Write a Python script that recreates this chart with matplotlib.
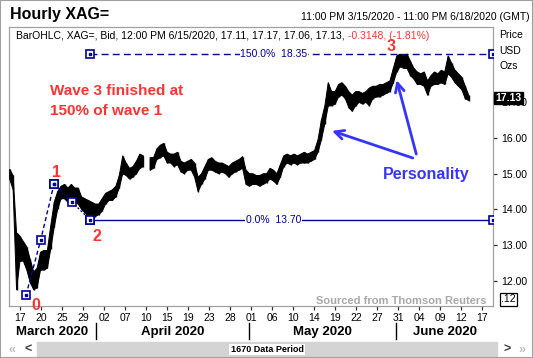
import numpy as np
from matplotlib import pyplot as plt
from matplotlib.patches import Rectangle

plt.rcParams['font.family'] = ['Liberation Sans', 'DejaVu Sans']

# hourly XAG= bid, low / high of each half session
lows = [14.85, 14.55, 11.75, 12.55, 12.55, 12.30, 11.95, 11.75, 11.80, 12.30,
        12.30, 12.35, 12.90, 13.50, 14.00, 14.30, 14.30, 14.20, 14.30, 14.20,
        14.15, 14.00, 13.90, 13.80, 13.85, 13.80, 13.85, 13.95, 14.15, 14.25,
        14.25, 14.35, 14.60, 15.00, 14.95, 14.85, 14.90, 15.00, 15.15, 15.20,
        np.nan,
        15.10, 15.15, 15.40, 15.45, 15.50, 15.30, 15.30, 15.20, 15.25,
        15.05, 15.00, 15.10, 15.10, 14.90, 14.50, 14.70, 14.85, 15.10, 15.10,
        15.05, 15.00, 15.05, 15.00, 14.90, 15.00, 15.05, 15.10, 15.15, 14.70,
        14.65, 14.70, 14.70, 14.65, 14.70, 14.75, 14.85, 14.80, 14.70, 14.90,
        15.20, 15.30, 15.25, 15.30, 15.25, 15.30, 15.30, 15.30, 15.35, 15.40,
        15.60, 15.95, 16.40, 16.90, 16.90, 16.95, 17.15, 17.20, 17.10, 16.85,
        16.75, 16.90, 17.00, 16.95, 17.00, 16.90, 17.10, 17.15, 17.15, 17.20,
        17.25, 17.30, 17.55, 17.85, 18.00, 17.95, 17.95, 17.75, 17.65, 17.50,
        17.50, 17.45, 17.20, 17.45, 17.50, 17.50, 17.55, 17.50, 17.80, 17.70,
        17.55, 17.45, 17.35, 17.10, 17.05]
highs = [15.12, 14.95, 13.35, 13.25, 13.10, 12.95, 12.60, 12.25, 12.35, 12.80,
         12.85, 12.85, 13.55, 14.20, 14.50, 14.65, 14.70, 14.60, 14.70, 14.60,
         14.60, 14.35, 14.30, 14.25, 14.20, 14.15, 14.15, 14.30, 14.45, 14.50,
         14.55, 14.65, 14.95, 15.50, 15.30, 15.15, 15.20, 15.35, 15.55, 15.50,
         np.nan,
         15.45, 15.45, 15.70, 15.80, 15.85, 15.60, 15.55, 15.55, 15.60,
         15.35, 15.30, 15.35, 15.40, 15.30, 14.90, 15.00, 15.20, 15.40, 15.45,
         15.35, 15.30, 15.30, 15.25, 15.20, 15.30, 15.35, 15.40, 15.48, 15.10,
         15.00, 15.00, 14.95, 14.95, 15.00, 15.00, 15.15, 15.10, 15.00, 15.25,
         15.50, 15.55, 15.50, 15.55, 15.50, 15.55, 15.60, 15.55, 15.60, 15.65,
         15.95, 16.50, 16.90, 17.55, 17.30, 17.30, 17.50, 17.55, 17.45, 17.30,
         17.20, 17.30, 17.30, 17.25, 17.30, 17.40, 17.45, 17.45, 17.50, 17.50,
         17.55, 17.60, 17.95, 18.30, 18.35, 18.30, 18.35, 18.15, 17.95, 17.85,
         17.80, 17.85, 17.60, 17.75, 17.85, 17.80, 17.90, 17.85, 18.30, 18.10,
         17.90, 17.80, 17.70, 17.45, 17.20]

tick_dates = ['2020-03-17', '2020-03-20', '2020-03-25', '2020-03-29', '2020-04-02',
              '2020-04-07', '2020-04-10', '2020-04-15', '2020-04-19', '2020-04-23',
              '2020-04-28', '2020-05-01', '2020-05-06', '2020-05-10', '2020-05-14',
              '2020-05-19', '2020-05-22', '2020-05-27', '2020-05-31', '2020-06-04',
              '2020-06-09', '2020-06-12', '2020-06-17']
tick_labels = [d[-2:] for d in tick_dates]
months = ['March 2020', 'April 2020', 'May 2020', 'June 2020']
month_starts = ['2020-04-01', '2020-05-01', '2020-06-01']
price_ticks = [12, 13, 14, 15, 16, 17]

# elliott wave marks: trading days from 17 Mar, price
impulse_days = [0.8, 2.9, 4.8]
impulse_prices = [11.60, 13.14, 14.71]
correction_days = [4.8, 7.4, 10.0]
correction_prices = [14.71, 14.20, 13.70]
fib_levels = [13.70, 18.35]
fib_labels = ['0.0%  13.70', '150.0%  18.35']

W, H = 533, 358
navy = '#00009c'
red = '#ff3333'
blue = '#3535ff'


def day(d):
    return np.busday_count('2020-03-17', d)


def fx(px):
    return px / W


def fy(py):
    return 1 - py / H


fig = plt.figure(figsize=(W / 100, H / 100), dpi=100)
ax = fig.add_axes([fx(9), fy(306), fx(493) - fx(9), fy(27) - fy(306)])
x_min, x_max = -1.63, 67.57
ax.set_xlim(x_min, x_max)
ax.set_ylim(11.294, 19.11)

# price band
sessions = np.linspace(-1.53, 64.1, len(lows))
ax.fill_between(sessions, lows, highs, color='black', lw=0.7, zorder=3)
ax.vlines(sessions, lows, highs, color='black', lw=1.0, zorder=3)

# fibonacci lines
for level, lab, ls in zip(fib_levels, fib_labels, ['-', (0, (5, 3))]):
    ax.plot([correction_days[-1], x_max], [level, level], color=navy, lw=1, ls=ls, zorder=2)
    ax.plot([correction_days[-1], x_max], [level, level], ls='none', marker='s', ms=6,
            mfc='white', mec=navy, mew=1.2, zorder=4)
    ax.plot([correction_days[-1], x_max], [level, level], ls='none', marker='s', ms=2,
            color=navy, zorder=5)
    ax.text(36.2, level, lab, color=navy, fontsize=7.5, ha='center', va='center',
            bbox=dict(facecolor='white', edgecolor='none', pad=0.3), zorder=4)

# wave lines
ax.plot(impulse_days, impulse_prices, color=navy, lw=1, ls=(0, (3, 2)), zorder=4)
ax.plot(correction_days, correction_prices, color=navy, lw=1, ls=(0, (1.5, 1.5)), zorder=4)
for xs, ys in [(impulse_days, impulse_prices), (correction_days, correction_prices)]:
    ax.plot(xs, ys, ls='none', marker='s', ms=6, mfc='white', mec=navy, mew=1.2, zorder=5)
    ax.plot(xs, ys, ls='none', marker='s', ms=2, color=navy, zorder=6)

for lab, u, p in [('0', 2.23, 11.31), ('1', 5.2, 15.02), ('2', 11.0, 13.23), ('3', 53.0, 18.55)]:
    ax.text(u, p, lab, color=red, fontsize=11.5, fontweight='bold', ha='center', va='center',
            clip_on=False, zorder=6)

# personality arrows
for tail, head in [((56.1, 15.44), (44.55, 16.20)), ((56.6, 15.55), (53.8, 17.62))]:
    ax.annotate('', xy=head, xytext=tail,
                arrowprops=dict(arrowstyle='->', color=blue, lw=2, mutation_scale=16,
                                shrinkA=0, shrinkB=0), zorder=6)
ax.text(58.05, 14.99, 'Personality', color=blue, fontsize=11.5, fontweight='bold',
        ha='center', va='center')

# axes styling
for s in ax.spines.values():
    s.set_color('#a0a0a0')
    s.set_linewidth(0.9)
ax.yaxis.tick_right()
ax.set_yticks(price_ticks)
ax.set_yticklabels([f'{p:.2f}' for p in price_ticks])
ax.set_xticks([day(d) for d in tick_dates])
ax.set_xticklabels(tick_labels)
ax.tick_params(axis='both', labelsize=7.5, length=3, width=0.9, color='#303030', pad=2)
ax.tick_params(axis='y', pad=3)

# month labels and separators
sep = [day(d) - 0.25 for d in month_starts]
bounds = [x_min] + sep + [x_max]
for i, m in enumerate(months):
    ax.text((bounds[i] + bounds[i + 1]) / 2, -0.093, m, transform=ax.get_xaxis_transform(),
            fontsize=9.5, fontweight='bold', ha='center', va='center')
for s in sep:
    ax.plot([s, s], [-0.06, -0.12], transform=ax.get_xaxis_transform(), color='black',
            lw=1, clip_on=False)

# header texts
fig.text(fx(10), fy(14), 'Hourly XAG=', fontsize=11.5, fontweight='bold', va='center')
fig.text(fx(530), fy(16.5), '11:00 PM 3/15/2020 - 11:00 PM 6/18/2020 (GMT)', fontsize=7.5,
         ha='right', va='center')
hdr = fig.text(fx(16), fy(35.8), 'BarOHLC, XAG=, Bid, 12:00 PM 6/15/2020, 17.11, 17.17, 17.06, 17.13, ',
               fontsize=7.5, va='center')
fig.add_artist(plt.Annotation('-0.3148, (-1.81%)', xy=(1, 0.5), xycoords=hdr, va='center',
                              fontsize=7.5, color=red))
for py, lab in [(34.7, 'Price'), (50.7, 'USD'), (66, 'Ozs')]:
    fig.text(fx(499), fy(py), lab, fontsize=7.5, va='center')

fig.text(fx(50), fy(91), 'Wave 3 finished at', color=red, fontsize=11, fontweight='bold',
         va='center')
fig.text(fx(50), fy(111), '150% of wave 1', color=red, fontsize=11, fontweight='bold',
         va='center')
fig.text(fx(486), fy(300.5), 'Sourced from Thomson Reuters', color='#a8a8a8', fontsize=8,
         fontweight='bold', ha='right', va='center')

# last price box and scale box
fig.patches.append(Rectangle((fx(494), fy(104)), fx(523) - fx(494), fy(92) - fy(104),
                             transform=fig.transFigure, color='black', zorder=5))
fig.text(fx(508.5), fy(98), '17.13', color='white', fontsize=7.5, fontweight='bold',
         ha='center', va='center', zorder=6)
fig.patches.append(Rectangle((fx(500), fy(306)), fx(517) - fx(500), fy(293) - fy(306),
                             transform=fig.transFigure, facecolor='white', edgecolor='black',
                             lw=0.9))
fig.text(fx(508.5), fy(299.5), '.12', fontsize=7.5, ha='center', va='center')

# scroll bar
fig.patches.append(Rectangle((fx(37), fy(357)), fx(497) - fx(37), fy(342) - fy(357),
                             transform=fig.transFigure, color='#d4d4d4'))
fig.text(fx(267), fy(349.5), '1670 Data Period', fontsize=6.5, fontweight='bold',
         ha='center', va='center', bbox=dict(facecolor='white', edgecolor='none', pad=0.8))
for px, s, c in [(12, '«', '#c0c0c0'), (28, '<', '#404040'), (507, '>', '#404040'),
                 (522, '»', '#c0c0c0')]:
    fig.text(fx(px), fy(349.5), s, color=c, fontsize=9, fontweight='bold', ha='center',
             va='center')

fig.patches.append(Rectangle((0, 0), 1, 1, transform=fig.transFigure, facecolor='none',
                             edgecolor='#a0a0a0', lw=1.5))

fig.savefig('out.png', dpi=100)
